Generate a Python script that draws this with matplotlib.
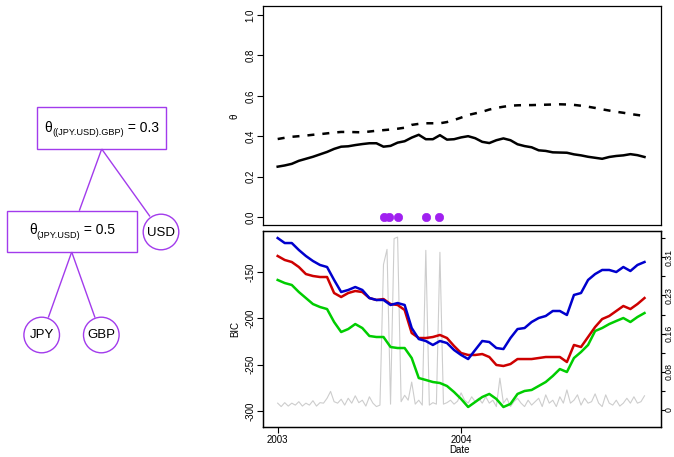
import numpy as np
import matplotlib
matplotlib.use("Agg")
import matplotlib.pyplot as plt
from matplotlib.patches import Rectangle, Circle
from matplotlib.ticker import FixedLocator, FixedFormatter

plt.rcParams['font.family'] = ['Liberation Sans', 'DejaVu Sans']
plt.rcParams['axes.unicode_minus'] = False

# ---------------- data ----------------
# bi-weekly time grid (decimal years) for the smooth series
t_biweek = 2003 + np.arange(53) / 26.0
# weekly time grid for the test statistic (grey line)
t_week = 2003 + np.arange(105) / 52.0

theta_solid = [0.249, 0.255, 0.263, 0.278, 0.288, 0.298, 0.310, 0.322, 0.337, 0.348,
               0.350, 0.356, 0.361, 0.365, 0.365, 0.348, 0.352, 0.368, 0.375, 0.393,
               0.407, 0.385, 0.385, 0.405, 0.383, 0.385, 0.394, 0.400, 0.390, 0.372,
               0.366, 0.380, 0.389, 0.380, 0.360, 0.351, 0.345, 0.330, 0.327, 0.320,
               0.319, 0.318, 0.310, 0.305, 0.298, 0.293, 0.288, 0.297, 0.302, 0.305,
               0.311, 0.306, 0.297]
theta_dashed = [0.386, 0.392, 0.397, 0.400, 0.403, 0.407, 0.410, 0.414, 0.418, 0.421,
                0.421, 0.420, 0.419, 0.423, 0.427, 0.430, 0.433, 0.437, 0.442, 0.456,
                0.461, 0.464, 0.464, 0.464, 0.470, 0.480, 0.492, 0.505, 0.513, 0.521,
                0.532, 0.540, 0.546, 0.551, 0.553, 0.554, 0.554, 0.555, 0.556, 0.557,
                0.558, 0.557, 0.555, 0.551, 0.546, 0.540, 0.533, 0.527, 0.521, 0.516,
                0.510, 0.505, 0.500]
change_dates = [2003.579, 2003.607, 2003.656, 2003.809, 2003.880]
change_theta = [0.0, 0.0, 0.0, 0.0, 0.0]

bic_blue = [-113.3, -118.7, -118.7, -126.2, -132.7, -138.1, -142.4, -144.6, -158.6, -171.6,
            -169.4, -166.2, -169.4, -178.1, -180.2, -180.2, -185.6, -183.5, -185.6, -210.5,
            -222.4, -224.5, -228.8, -224.5, -226.7, -234.2, -239.6, -244.0, -234.2, -224.5,
            -225.6, -232.1, -233.2, -221.3, -211.6, -210.5, -204.0, -199.7, -197.5, -192.1,
            -192.1, -196.4, -174.8, -172.7, -158.6, -152.2, -147.8, -147.8, -150.0, -144.6,
            -148.9, -142.4, -139.2]
bic_red = [-132.7, -137.0, -139.2, -144.6, -152.2, -154.3, -155.4, -155.4, -172.7, -177.0,
           -172.7, -170.5, -171.6, -178.1, -180.2, -179.2, -184.6, -185.6, -191.0, -215.9,
           -221.3, -221.3, -220.2, -218.0, -221.3, -229.9, -237.5, -239.6, -239.6, -238.6,
           -241.8, -250.4, -251.5, -249.4, -244.0, -244.0, -244.0, -242.9, -241.8, -241.8,
           -241.8, -247.2, -228.8, -231.0, -220.2, -209.4, -200.8, -197.5, -192.1, -186.7,
           -190.0, -184.6, -178.1]
bic_green = [-158.6, -161.9, -164.0, -171.6, -178.1, -184.6, -187.8, -190.0, -204.0, -214.8,
             -211.6, -206.2, -210.5, -219.1, -220.2, -220.2, -231.0, -232.1, -232.1, -242.9,
             -264.5, -266.6, -268.8, -269.9, -273.1, -279.6, -287.1, -295.8, -290.4, -285.0,
             -281.7, -287.1, -295.8, -292.5, -281.7, -278.5, -277.4, -273.1, -268.8, -262.3,
             -254.8, -258.0, -242.9, -236.4, -228.8, -213.7, -210.5, -206.2, -202.9, -199.7,
             -204.0, -198.6, -194.3]
stat_grey = [0.014, 0.007, 0.015, 0.008, 0.014, 0.010, 0.017, 0.008, 0.014, 0.010,
             0.019, 0.008, 0.015, 0.014, 0.024, 0.038, 0.017, 0.014, 0.022, 0.010,
             0.024, 0.014, 0.029, 0.015, 0.020, 0.008, 0.027, 0.014, 0.007, 0.010,
             0.297, 0.328, 0.012, 0.350, 0.353, 0.017, 0.030, 0.020, 0.057, 0.012,
             0.020, 0.010, 0.326, 0.010, 0.015, 0.012, 0.322, 0.012, 0.015, 0.020,
             0.012, 0.018, 0.035,
             0.020, 0.014, 0.027, 0.017, 0.024, 0.014, 0.027, 0.014, 0.020, 0.007,
             0.065, 0.014, 0.024, 0.007, 0.017, 0.024, 0.014, 0.007, 0.020, 0.010,
             0.017, 0.024, 0.007, 0.031, 0.014, 0.020, 0.007, 0.027, 0.014, 0.041,
             0.014, 0.020, 0.031, 0.010, 0.024, 0.014, 0.017, 0.033, 0.014, 0.007,
             0.031, 0.014, 0.010, 0.020, 0.008, 0.014, 0.024, 0.014, 0.027, 0.014,
             0.017, 0.029]

theta_ticks = [0.0, 0.2, 0.4, 0.6, 0.8, 1.0]
theta_ticklabels = ["0.0", "0.2", "0.4", "0.6", "0.8", "1.0"]
bic_ticks = [-300, -250, -200, -150]
bic_ticklabels = ["-300", "-250", "-200", "-150"]
stat_ticks = [0.039 * k for k in range(10)]
stat_ticklabels = ["0", "", "0.08", "", "0.16", "", "0.23", "", "0.31", ""]
year_ticks = [2003, 2004]
year_ticklabels = ["2003", "2004"]

# tree labels
node_sub = ["((JPY.USD).GBP)", "(JPY.USD)"]
node_val = ["0.3", "0.5"]
leaf_labels = ["USD", "JPY", "GBP"]

PURPLE = "#A020F0"
TREE = "#A23BEC"

# ---------------- figure ----------------
W, H = 674, 457
fig = plt.figure(figsize=(W / 100, H / 100), dpi=100)

# ----- tree diagram (pixel coordinates overlay) -----
tree = fig.add_axes([0, 0, 1, 1])
tree.set_xlim(0, W)
tree.set_ylim(H, 0)
tree.axis('off')

boxes = [(36.7, 107.3, 129.3, 41.4), (6.7, 210.7, 130.0, 41.3)]
for (bx, by, bw, bh) in boxes:
    tree.add_patch(Rectangle((bx, by), bw, bh, fill=False, ec=TREE, lw=1.0))
circles = [(161.0, 232.0), (41.7, 335.0), (101.3, 335.0)]
for (cx, cy), lab in zip(circles, leaf_labels):
    tree.add_patch(Circle((cx, cy), 17.8, fill=False, ec=TREE, lw=1.0))
    tree.text(cx, cy + 0.5, lab, fontsize=9.5, ha='center', va='center')
edges = [((101.7, 149.0), (79.3, 210.7)), ((101.7, 149.0), (150.0, 216.5)),
         ((71.7, 252.0), (48.3, 317.6)), ((71.7, 252.0), (95.0, 317.6))]
for (p, q) in edges:
    tree.plot([p[0], q[0]], [p[1], q[1]], color=TREE, lw=1.0, solid_capstyle='butt')

renderer = fig.canvas.get_renderer()


def theta_label(xc, yc, sub, val):
    pieces = [("θ", 10, 0.0), (sub, 6.6, 3.0), (" = " + val, 10, 0.0)]
    txts = []
    widths = []
    for s, fs, dy in pieces:
        t = tree.text(0, 0, s, fontsize=fs, ha='left', va='baseline')
        txts.append((t, dy))
        widths.append(t.get_window_extent(renderer).width)
    total = sum(widths)
    x = xc - total / 2
    base = yc + 4.5
    for (t, dy), w in zip(txts, widths):
        t.set_position((x, base + dy))
        x += w


theta_label(101.5, 127.5, node_sub[0], node_val[0])
theta_label(72.0, 230.0, node_sub[1], node_val[1])

# ----- top panel: theta -----
L, R = 263 / W, 661 / W
ax1 = fig.add_axes([L, 1 - 225 / H, R - L, (225 - 6) / H])
ax1.plot(t_biweek, theta_dashed, color='black', lw=1.8, dashes=(2.8, 3.2))
ax1.plot(t_biweek, theta_solid, color='black', lw=1.8)
ax1.plot(change_dates, change_theta, 'o', color=PURPLE, ms=6.0, mec=PURPLE, mew=0.5)
ax1.set_xlim(2002.92, 2005.09)
ax1.set_ylim(-0.04, 1.045)
ax1.set_xticks([])
ax1.yaxis.set_major_locator(FixedLocator(theta_ticks))
ax1.yaxis.set_major_formatter(FixedFormatter(theta_ticklabels))

# ----- bottom panel: BIC + statistic -----
ax2 = fig.add_axes([L, 1 - 427 / H, R - L, (427 - 231) / H])
ax2r = ax2.twinx()
ax2r.plot(t_week, stat_grey, color='#CDCDCD', lw=0.8)
ax2.plot(t_biweek, bic_green, color='#00CD00', lw=1.8)
ax2.plot(t_biweek, bic_red, color='#CD0000', lw=1.8)
ax2.plot(t_biweek, bic_blue, color='#0000CD', lw=1.8)
ax2.set_zorder(ax2r.get_zorder() + 1)
ax2.patch.set_visible(False)
ax2.set_xlim(2002.92, 2005.09)
ax2.set_ylim(-317.4, -105.7)
ax2r.set_ylim(-0.0347, 0.3655)
ax2.xaxis.set_major_locator(FixedLocator(year_ticks))
ax2.xaxis.set_major_formatter(FixedFormatter(year_ticklabels))
ax2.yaxis.set_major_locator(FixedLocator(bic_ticks))
ax2.yaxis.set_major_formatter(FixedFormatter(bic_ticklabels))
ax2r.yaxis.set_major_locator(FixedLocator(stat_ticks))
ax2r.yaxis.set_major_formatter(FixedFormatter(stat_ticklabels))

for a in (ax1, ax2, ax2r):
    for sp in a.spines.values():
        sp.set_linewidth(0.9)
for a in (ax1, ax2):
    a.tick_params(direction='out', length=4, width=0.8, labelsize=7, pad=1.5)
ax2r.tick_params(direction='out', length=2.6, width=0.8, labelsize=6.3, pad=0.2)

for a in (ax1, ax2):
    for lab in a.get_yticklabels():
        lab.set_rotation(90)
        lab.set_va('center')
        lab.set_ha('right')
for lab in ax2r.get_yticklabels():
    lab.set_rotation(90)
    lab.set_va('center')
    lab.set_ha('left')

fig.text(235 / W, 1 - 116.7 / H, "θ", fontsize=7, rotation=90, ha='center', va='center')
fig.text(235 / W, 1 - 329 / H, "BIC", fontsize=7, rotation=90, ha='center', va='center')
fig.text(460 / W, 1 - 450 / H, "Date", fontsize=7, ha='center', va='center')

fig.savefig("out.png", dpi=100)
